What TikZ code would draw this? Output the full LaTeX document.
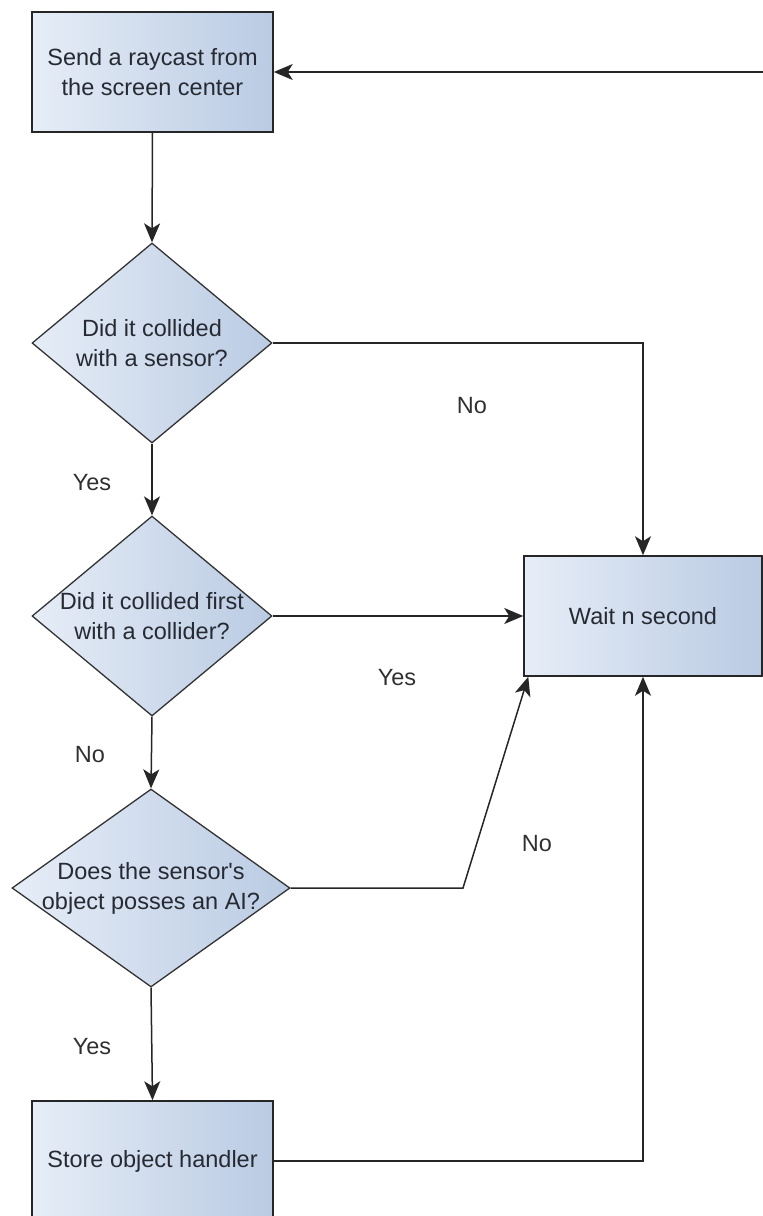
\documentclass[tikz,border=0pt]{standalone}
\usepackage{fontspec}
\setmainfont{Liberation Sans}[Ligatures=TeXOff]
\usetikzlibrary{shapes.geometric,arrows.meta}
\definecolor{boxlight}{HTML}{E6EDF7}
\definecolor{boxdark}{HTML}{BACBE3}
\definecolor{inktext}{HTML}{262A33}
\definecolor{labeltext}{HTML}{303030}
\tikzset{
  flowbox/.style={rectangle, draw=black!85, line width=1.5pt,
    left color=boxlight, right color=boxdark,
    inner sep=0pt, align=center, text=inktext,
    font=\fontsize{23.5}{30}\selectfont},
  decision/.style={diamond, draw=black!80, line width=1.3pt,
    left color=boxlight, right color=boxdark, inner sep=0pt},
  dtext/.style={align=center, text=inktext, inner sep=0pt,
    font=\fontsize{23.5}{30}\selectfont},
  branch/.style={text=labeltext, inner sep=0pt,
    font=\fontsize{23.5}{30}\selectfont},
  flow/.style={line width=1.5pt, draw=black!85,
    -{Stealth[length=19pt,width=16pt,inset=5pt]}},
}
\begin{document}
\begin{tikzpicture}[x=1pt,y=-1pt]
\useasboundingbox (0,0) rectangle (763,1216);
\clip (0,0) rectangle (763,1216);

% process boxes
\node[flowbox, minimum width=241pt, minimum height=120pt] (send) at (152.5,72)
  {Send a raycast from\\the screen center};
\node[flowbox, minimum width=238pt, minimum height=120pt] (wait) at (643,616)
  {Wait n second};
\node[flowbox, minimum width=241pt, minimum height=120pt] (store) at (152.5,1161)
  {Store object handler};

% decisions
\node[decision, minimum width=240pt, minimum height=200pt] (sensor) at (152,343) {};
\node[dtext] (sensort) at (sensor.center) {Did it collided\\with a sensor?};
\node[decision, minimum width=240pt, minimum height=200pt] (collider) at (152,616) {};
\node[dtext] (collidert) at (collider.center) {Did it collided first\\with a collider?};
\node[decision, minimum width=278pt, minimum height=198pt] (ai) at (151,888) {};
\node[dtext] (ait) at (ai.center) {Does the sensor's\\object posses an AI?};

% connectors
\coordinate (bend) at (463,888);
\draw[flow] (send.south) -- (sensor.north);
\draw[flow] (sensor.east) -| (wait.north);
\draw[flow] (sensor.south) -- (collider.north);
\draw[flow] (collider.east) -- (wait.west);
\draw[flow] (collider.south) -- (ai.north);
\draw[flow] (ai.east) -- (bend) -- ([xshift=5pt]wait.south west);
\draw[flow] (ai.south) -- (store.north);
\draw[flow] (store.east) -| (wait.south);
\draw[flow] (wait.east) -- ++(40,0) |- (send.east);

% branch labels
\node[branch] (no1) at (472,406) {No};
\node[branch] (yes1) at (92,483) {Yes};
\node[branch] (yes2) at (397,678) {Yes};
\node[branch] (no2) at (90,755) {No};
\node[branch] (no3) at (537,844) {No};
\node[branch] (yes3) at (92,1047) {Yes};
\end{tikzpicture}
\end{document}
